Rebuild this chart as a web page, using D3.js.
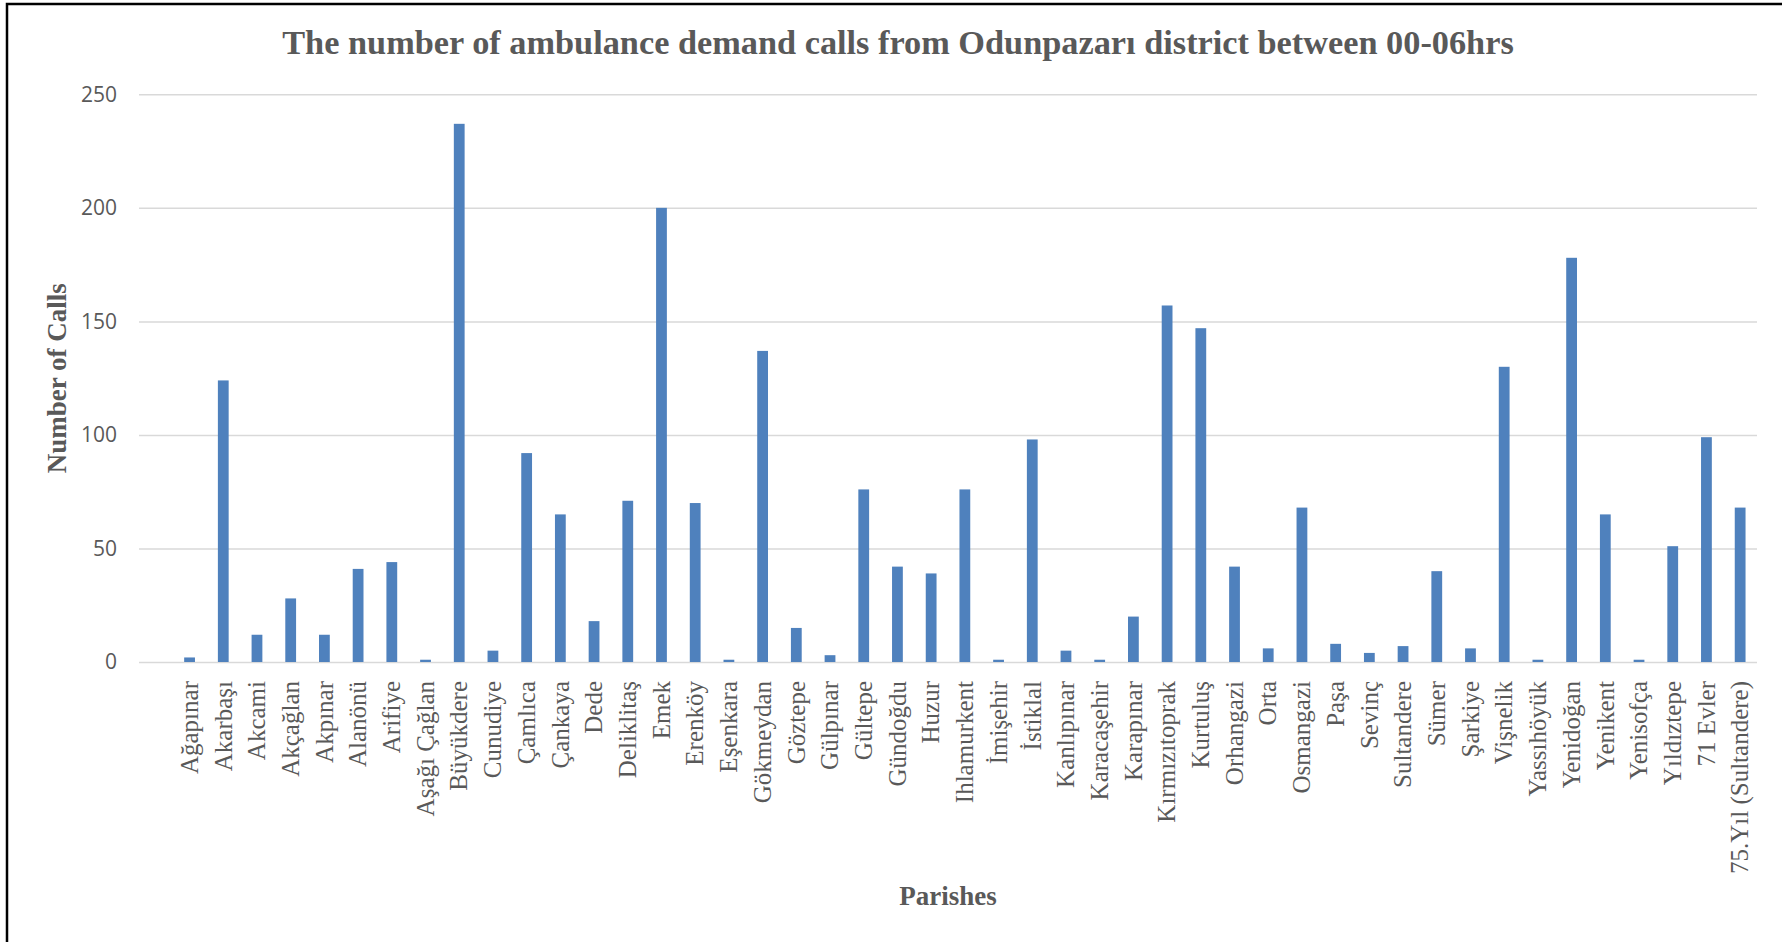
<!DOCTYPE html>
<html>
<head>
<meta charset="utf-8">
<script src="https://cdn.jsdelivr.net/npm/d3@7/dist/d3.min.js"></script>
<style>
  html, body { margin: 0; padding: 0; background: #ffffff; }
  svg { display: block; }
</style>
</head>
<body>
<svg id="chart" width="1782" height="942"></svg>
<script>
// Night-time (00-06) ambulance demand calls per parish, Odunpazarı district
const categories = [
  "Ağapınar", "Akarbaşı", "Akcami", "Akçağlan", "Akpınar", "Alanönü", "Arifiye",
  "Aşağı Çağlan", "Büyükdere", "Cunudiye", "Çamlıca", "Çankaya", "Dede", "Deliklitaş",
  "Emek", "Erenköy", "Eşenkara", "Gökmeydan", "Göztepe", "Gülpınar", "Gültepe",
  "Gündoğdu", "Huzur", "Ihlamurkent", "İmişehir", "İstiklal", "Kanlıpınar",
  "Karacaşehir", "Karapınar", "Kırmızıtoprak", "Kurtuluş", "Orhangazi", "Orta",
  "Osmangazi", "Paşa", "Sevinç", "Sultandere", "Sümer", "Şarkiye", "Vişnelik",
  "Yassıhöyük", "Yenidoğan", "Yenikent", "Yenisofça", "Yıldıztepe", "71 Evler",
  "75.Yıl (Sultandere)"
];
const calls = [
  2, 124, 12, 28, 12, 41, 44,
  1, 237, 5, 92, 65, 18, 71,
  200, 70, 1, 137, 15, 3, 76,
  42, 39, 76, 1, 98, 5,
  1, 20, 157, 147, 42, 6,
  68, 8, 4, 7, 40, 6, 130,
  1, 178, 65, 1, 51, 99,
  68
];
const yTicks = [0, 50, 100, 150, 200, 250];

const titleText = "The number of ambulance demand calls from Odunpazarı district between 00-06hrs";
const yTitle = "Number of Calls";
const xTitle = "Parishes";

const W = 1782, H = 942;
const plot = { left: 139, right: 1757, top: 94.3, bottom: 662 };
const textGray = "#595959";
const gridGray = "#d9d9d9";
const barBlue = "#4f81bd";
const serif = "'Liberation Serif', 'Times New Roman', serif";
const sans = "'Open Sans', 'Noto Sans', sans-serif";

const svg = d3.select("#chart");
svg.append("rect").attr("width", W).attr("height", H).attr("fill", "#ffffff");

// chart frame (left and top edges)
svg.append("path")
  .attr("d", `M7,${H} L7,4 L${W},4`)
  .attr("fill", "none").attr("stroke", "#000").attr("stroke-width", 2.5);

// the category axis opens with an empty slot before the first parish
const slots = [""].concat(categories);
const x = d3.scaleBand()
  .domain(slots)
  .range([plot.left, plot.right])
  .paddingInner(0.68)
  .paddingOuter(0.34);

const y = d3.scaleLinear()
  .domain([0, d3.max(yTicks)])
  .range([plot.bottom, plot.top]);

// horizontal gridlines
const yAxis = d3.axisLeft(y)
  .tickValues(yTicks)
  .tickSize(-(plot.right - plot.left))
  .tickPadding(22)
  .tickFormat(d3.format("d"));

const gy = svg.append("g")
  .attr("transform", `translate(${plot.left},0)`)
  .call(yAxis);
gy.select(".domain").remove();
gy.selectAll(".tick line").attr("stroke", gridGray).attr("stroke-width", 1.5);
gy.selectAll(".tick text")
  .attr("fill", textGray)
  .style("font-family", sans)
  .style("font-size", "21px");

// bars
svg.append("g").selectAll("rect")
  .data(categories.map((c, i) => ({ name: c, value: calls[i] })))
  .join("rect")
  .attr("x", d => x(d.name))
  .attr("width", x.bandwidth())
  .attr("y", d => y(d.value))
  .attr("height", d => y(0) - y(d.value))
  .attr("fill", barBlue);

// category labels, rotated
const xAxis = d3.axisBottom(x).tickSize(0).tickPadding(0);
const gx = svg.append("g")
  .attr("transform", `translate(0,${plot.bottom})`)
  .call(xAxis);
gx.select(".domain").remove();
gx.selectAll(".tick text")
  .attr("fill", textGray)
  .style("font-family", serif)
  .style("font-size", "25px")
  .attr("text-anchor", "end")
  .attr("dy", "0.33em")
  .attr("transform", "translate(0,19) rotate(-90)")
  .attr("x", 0).attr("y", 0);

// title
const title = svg.append("text")
  .attr("x", 898).attr("y", 54)
  .attr("text-anchor", "middle")
  .attr("fill", textGray)
  .style("font-family", serif)
  .style("font-weight", "bold")
  .style("font-size", "33px")
  .text(titleText);
const tw = title.node().getComputedTextLength();
title.style("font-size", (33 * 1232 / tw).toFixed(2) + "px");

// axis titles
svg.append("text")
  .attr("transform", `translate(66,${(plot.top + plot.bottom) / 2}) rotate(-90)`)
  .attr("text-anchor", "middle")
  .attr("fill", textGray)
  .style("font-family", serif)
  .style("font-weight", "bold")
  .style("font-size", "27px")
  .text(yTitle);

svg.append("text")
  .attr("x", (plot.left + plot.right) / 2).attr("y", 905)
  .attr("text-anchor", "middle")
  .attr("fill", textGray)
  .style("font-family", serif)
  .style("font-weight", "bold")
  .style("font-size", "27px")
  .text(xTitle);
</script>
</body>
</html>
